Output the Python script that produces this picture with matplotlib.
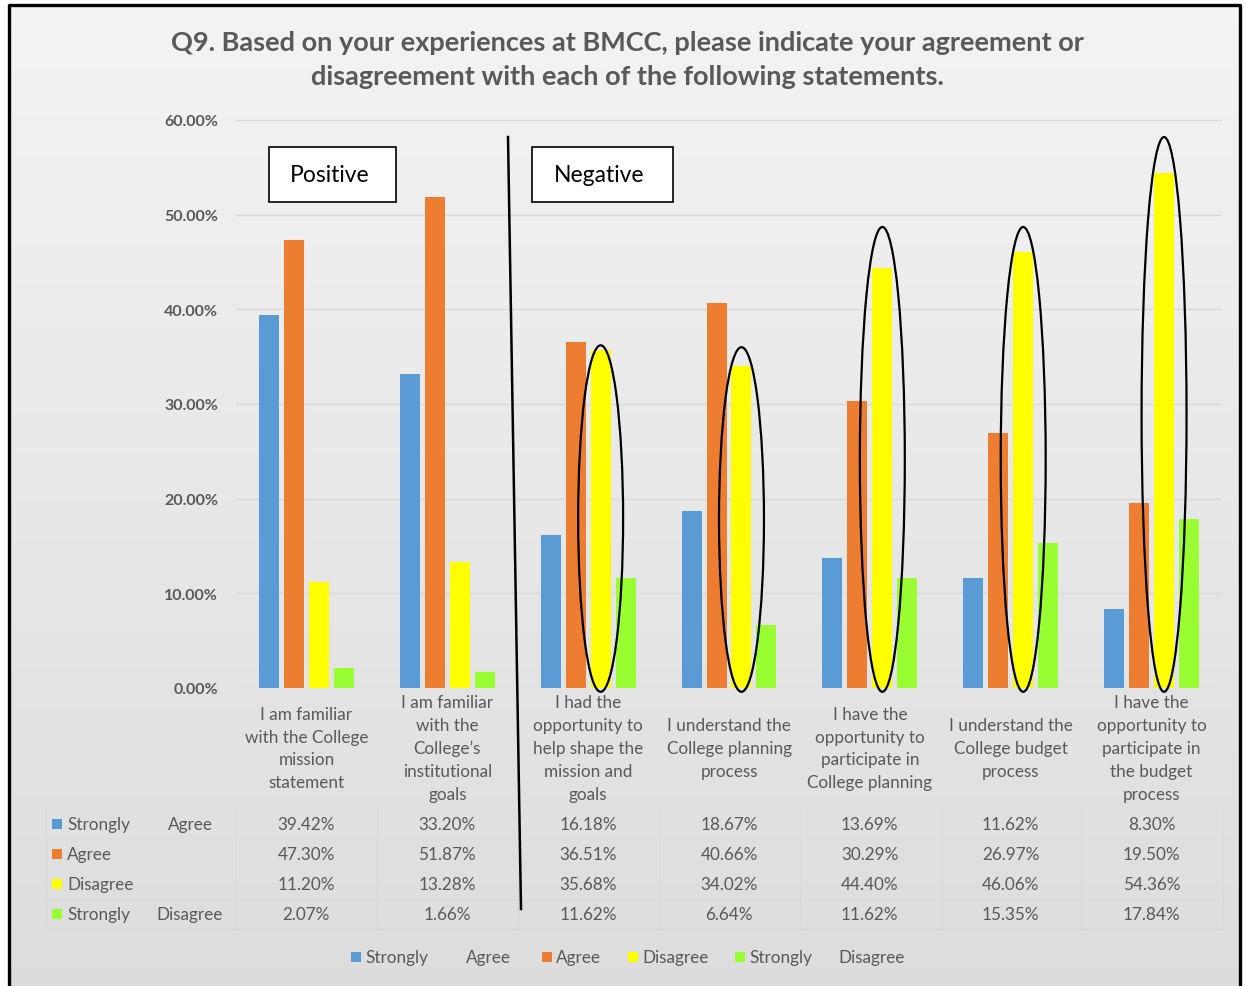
import numpy as np
import matplotlib.pyplot as plt
from matplotlib.patches import Rectangle, Ellipse
from matplotlib.lines import Line2D
from matplotlib.transforms import blended_transform_factory

plt.rcParams['font.family'] = ['Lato', 'DejaVu Sans']

# ---- data -------------------------------------------------------------
categories = [
    "I am familiar\nwith the College\nmission\nstatement",
    "I am familiar\nwith the\nCollege\u2019s\ninstitutional\ngoals",
    "I had the\nopportunity to\nhelp shape the\nmission and\ngoals",
    "I understand the\nCollege planning\nprocess",
    "I have the\nopportunity to\nparticipate in\nCollege planning",
    "I understand the\nCollege budget\nprocess",
    "I have the\nopportunity to\nparticipate in\nthe budget\nprocess",
]
strongly_agree = [39.42, 33.20, 16.18, 18.67, 13.69, 11.62, 8.30]
agree = [47.30, 51.87, 36.51, 40.66, 30.29, 26.97, 19.50]
disagree = [11.20, 13.28, 35.68, 34.02, 44.40, 46.06, 54.36]
strongly_disagree = [2.07, 1.66, 11.62, 6.64, 11.62, 15.35, 17.84]
series_labels = [("Strongly", "Agree"), ("Agree", ""), ("Disagree", ""), ("Strongly", "Disagree")]
y_ticks = [0, 10, 20, 30, 40, 50, 60]

title = ("Q9. Based on your experiences at BMCC, please indicate your agreement or\n"
         "disagreement with each of the following statements.")

# ---- styling ----------------------------------------------------------
colors = ["#5b9bd5", "#ed7d31", "#ffff00", "#99ff33"]
TXT = "#595959"
W, H = 1247, 987


def fx(px):
    return px / W


def fy(py):
    return 1 - py / H


fig = plt.figure(figsize=(W / 100, H / 100), dpi=100)
fig.patch.set_facecolor("white")

# gradient background inside the frame
bg = fig.add_axes([fx(9), 0, fx(1240) - fx(9), fy(6)], zorder=-10)
grad = np.linspace(0.955, 0.865, 256).reshape(-1, 1)
bg.imshow(np.dstack([grad] * 3), aspect="auto", extent=[0, 1, 0, 1])
bg.axis("off")

# frame
fig.add_artist(Line2D([fx(9), fx(9), fx(1240), fx(1240)], [0, fy(6), fy(6), 0],
                      transform=fig.transFigure, color="black", lw=2.4))

# ---- main axes --------------------------------------------------------
ax = fig.add_axes([fx(236), fy(689), fx(1222) - fx(236), (689 - 121) / H])
ax.set_facecolor("none")
x = np.arange(len(categories))
step = 25 / 141
width = 20 / 141
series = [strongly_agree, agree, disagree, strongly_disagree]
for i, (vals, c) in enumerate(zip(series, colors)):
    ax.bar(x + (i - 1.5) * step, vals, width, color=c, zorder=3)

ax.set_xlim(-0.5, len(categories) - 0.5)
ax.set_ylim(0, 60)
ax.set_yticks(y_ticks)
ax.set_yticklabels([f"{v:.2f}%" for v in y_ticks], fontweight="bold",
                   color=TXT, fontsize=11.5)
ax.tick_params(axis="y", length=0, pad=13)
ax.set_xticks([])
ax.grid(axis="y", color="#d9d9d9", lw=1)
ax.set_axisbelow(True)
for s in ax.spines.values():
    s.set_visible(False)

# ellipses highlighting the disagreement bars
for idx, top in [(2, 36.2), (3, 36.0), (4, 48.7), (5, 48.7), (6, 58.2)]:
    bottom = -0.4
    ax.add_patch(Ellipse((idx + 0.5 * step, (top + bottom) / 2), 45 / 141, top - bottom,
                         fill=False, ec="black", lw=1.6, clip_on=False, zorder=5))

# ---- category labels & data table -------------------------------------
bt = blended_transform_factory(ax.transData, fig.transFigure)
for i, lab in enumerate(categories):
    ax.text(i, fy(749), lab, transform=bt, ha="center", va="center",
            multialignment="center", fontsize=12.3, color=TXT, linespacing=1.52)

row_y = [825, 855, 885, 915]
for r, (vals, c, (w1, w2)) in enumerate(zip(series, colors, series_labels)):
    yy = row_y[r]
    fig.add_artist(Rectangle((fx(52), fy(yy + 5)), fx(10), 10 / H,
                             transform=fig.transFigure, color=c, lw=0))
    fig.text(fx(67), fy(yy), w1, ha="left", va="center", fontsize=12.3, color=TXT)
    if w2:
        fig.text(fx(168 if w2 == "Agree" else 156), fy(yy), w2, ha="left",
                 va="center", fontsize=12.3, color=TXT)
    for i, v in enumerate(vals):
        ax.text(i, fy(yy), f"{v:.2f}%", transform=bt, ha="center", va="center",
                fontsize=12.3, color=TXT)

line_c = "#d8d8d8"
for yy in [900, 930]:
    fig.add_artist(Line2D([fx(46), fx(1222)], [fy(yy), fy(yy)],
                          transform=fig.transFigure, color=line_c, lw=0.6))
for xp in [46] + [236 + k * 141 for k in range(len(categories) + 1)]:
    fig.add_artist(Line2D([fx(xp), fx(xp)], [fy(810), fy(930)],
                          transform=fig.transFigure, color=line_c, lw=0.6))

# ---- bottom legend ----------------------------------------------------
legend_items = [(351, [(365, "Strongly"), (466, "Agree")]),
                (542, [(556, "Agree")]),
                (628, [(642, "Disagree")]),
                (735, [(749, "Strongly"), (838, "Disagree")])]
for c, (sx, words) in zip(colors, legend_items):
    fig.add_artist(Rectangle((fx(sx), fy(963)), fx(10), 10 / H,
                             transform=fig.transFigure, color=c, lw=0))
    for px, w in words:
        fig.text(fx(px), fy(958), w, ha="left", va="center", fontsize=12.3, color=TXT)

# ---- annotations ------------------------------------------------------
fig.text(fx(627), fy(60), title, ha="center", va="center", fontsize=19.5,
         fontweight="bold", color=TXT, linespacing=1.5)

for (x0, x1), lab in [((269, 396), "Positive"), ((532, 673), "Negative")]:
    fig.add_artist(Rectangle((fx(x0), fy(203)), fx(x1 - x0), (203 - 148) / H,
                             transform=fig.transFigure, fc="white", ec="black", lw=1.2))
    fig.text(fx((x0 + x1) / 2 - 3), fy(176), lab, ha="center", va="center",
             fontsize=16.5, color="black")

fig.add_artist(Line2D([fx(508), fx(521)], [fy(138), fy(910)],
                      transform=fig.transFigure, color="black", lw=1.8))

fig.savefig("out.png", dpi=100)
